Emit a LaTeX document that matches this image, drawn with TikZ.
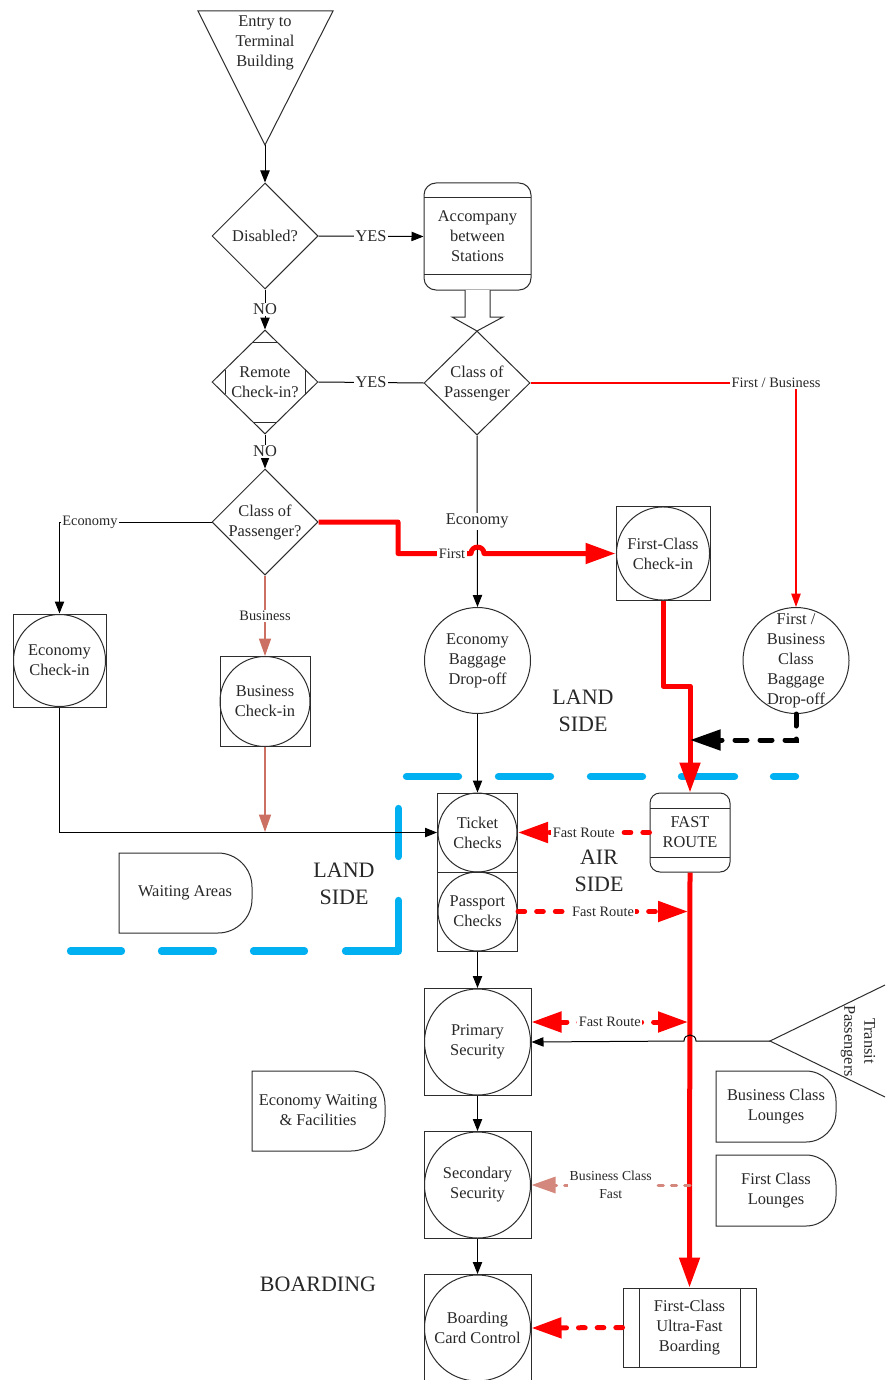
\documentclass[tikz,border=0pt]{standalone}
\usepackage{fontspec}
\setmainfont{Liberation Serif}
\usetikzlibrary{arrows.meta,shapes.geometric}

\definecolor{ink}{RGB}{40,40,40}
\definecolor{lineg}{RGB}{45,45,45}
\definecolor{fastred}{RGB}{255,0,0}
\definecolor{bizpink}{RGB}{205,112,100}
\definecolor{bizfast}{RGB}{212,135,125}
\definecolor{zoneblue}{RGB}{0,176,240}

% rectangle whose right side is a rounded tab: left, top, right, bottom, radius
\newcommand{\tabshape}[5]{%
  \draw[shape line] (#1,#2) -- ({#3-#5},#2)
    .. controls ({#3-0.45*#5},#2) and (#3,{#2+0.45*#5}) .. (#3,{#2+#5})
    -- (#3,{#4-#5})
    .. controls (#3,{#4-0.45*#5}) and ({#3-0.45*#5},#4) .. ({#3-#5},#4)
    -- (#1,#4) -- cycle;}

\begin{document}
\begin{tikzpicture}[x=0.75pt,y=-0.75pt,
  every node/.style={font=\fontsize{12.3}{15}\selectfont, text=ink, align=center},
  shape line/.style={draw=lineg, line width=0.75pt},
  decision/.style={shape line, diamond, minimum width=79.5pt, minimum height=79.5pt, inner sep=-8pt},
  station/.style={shape line, rectangle, inner sep=0pt},
  tag/.style={font=\fontsize{10.8}{13.5}\selectfont, fill=white, inner sep=1pt},
  tagm/.style={fill=white, inner sep=1pt},
  big/.style={font=\fontsize{16.5}{20}\selectfont},
  flow/.style={draw=black, line width=0.75pt, -{Triangle[length=9pt,width=7pt]}},
  plain/.style={draw=black, line width=0.75pt},
  bizflow/.style={draw=bizpink, line width=0.9pt, -{Triangle[length=13pt,width=9pt]}},
  redthin/.style={draw=fastred, line width=1pt, -{Triangle[length=10pt,width=7pt]}},
  fastlane/.style={draw=fastred, line width=3.75pt, line join=round, -{Triangle[length=22.5pt,width=15pt]}},
  fastdot/.style={draw=fastred, line width=3.75pt, line cap=round, dash pattern=on 5pt off 9pt, -{Triangle[length=22.5pt,width=15pt]}},
  bagdash/.style={draw=black, line width=3.75pt, line cap=round, dash pattern=on 9pt off 9.75pt, -{Triangle[length=23pt,width=15pt]}},
  bizdot/.style={draw=bizfast, line width=2.25pt, line cap=round, dash pattern=on 4pt off 6pt, -{Triangle[length=18pt,width=12pt]}},
  zone/.style={draw=zoneblue, line width=5.5pt, line cap=round, line join=round}
]
\useasboundingbox (0,0) rectangle (885,1380);
\fill[white] (0,0) rectangle (885,1380);

% ---- land side / air side boundary
\foreach \a/\b in {406.5/458.5, 498.5/550.5, 590.5/642.5, 681.5/734.5, 773.5/795.5}
  \draw[zone] (\a,776.5) -- (\b,776.5);
\draw[zone] (398.5,808.5) -- (398.5,856.5);
\draw[zone] (398.5,900.5) -- (398.5,951) -- (345.5,951);
\foreach \a/\b in {70.5/121.5, 161.5/213.5, 253.5/304.5}
  \draw[zone] (\a,951) -- (\b,951);

% ---- entry
\draw[shape line] (198,11) -- (333,11) -- (265,145) -- cycle;
\node (entry) at (265,43) {Entry to\\Terminal\\Building};
\coordinate (entrytip) at (265,145);

% ---- decisions
\node[decision] (dis) at (265,236) {Disabled?};
\node[decision, minimum height=78pt] (rem) at (265,382) {Remote\\Check-in?};
\draw[shape line] (253,342) -- (277,342);
\draw[shape line] (253,422) -- (277,422);
\draw[shape line] (225,370) -- (225,394);
\draw[shape line] (305,370) -- (305,394);
\node[decision] (cpa) at (265,522) {Class of\\Passenger?};
\node[decision, minimum height=78pt] (cpb) at (477,383) {Class of\\Passenger};

% ---- accompany
\node[station, rounded corners=9pt, minimum width=80.25pt, minimum height=80.25pt] (acc) at (477.5,236.5) {Accompany\\between\\Stations};
\draw[shape line] (424,198) -- (531,198);
\draw[shape line] (424,274) -- (531,274);

% ---- check-in and baggage
\node[station, minimum size=69.75pt] (eci) at (59.5,660.5) {Economy\\Check-in};
\draw[shape line] (eci.center) circle (34.5pt);
\node[station, minimum size=67.5pt] (bci) at (265,701.5) {Business\\Check-in};
\draw[shape line] (bci.center) circle (33.75pt);
\node[station, minimum size=70.5pt] (fci) at (663,553.5) {First-Class\\Check-in};
\draw[shape line] (fci.center) circle (34.9pt);
\node[shape line, circle, minimum size=79.5pt, inner sep=0pt] (ebd) at (477.5,660.5) {Economy\\Baggage\\Drop-off};
\node[shape line, circle, minimum size=79.5pt, inner sep=-14pt] (fbd) at (796,660.5) {First /\\Business\\Class\\Baggage\\Drop-off};

% ---- checks
\node[station, minimum width=60pt, minimum height=59.25pt] (tkt) at (477.5,832.5) {Ticket\\Checks};
\draw[shape line] (tkt.center) circle (29.6pt);
\node[station, minimum width=60pt, minimum height=59.25pt] (psp) at (477.5,911.5) {Passport\\Checks};
\draw[shape line] (psp.center) circle (29.6pt);
\node[station, rounded corners=7.5pt, minimum width=60pt, minimum height=59.25pt] (fast) at (690,832.5) {FAST\\ROUTE};
\draw[shape line] (650,808) -- (730,808);
\draw[shape line] (650,857) -- (730,857);

% ---- security and boarding
\node[station, minimum size=80.25pt] (pri) at (477.5,1042) {Primary\\Security};
\draw[shape line] (pri.center) circle (39.75pt);
\node[station, minimum size=80.25pt] (sec) at (477.5,1185) {Secondary\\Security};
\draw[shape line] (sec.center) circle (39.75pt);
\node[station, minimum size=80.25pt] (brd) at (477.5,1328) {Boarding\\Card Control};
\draw[shape line] (brd.center) circle (39.75pt);
\node[station, minimum width=99.75pt, minimum height=59.25pt] (ufb) at (689.5,1327.5) {First-Class\\Ultra-Fast\\Boarding};
\draw[shape line] (639,1288) -- (639,1367);
\draw[shape line] (740,1288) -- (740,1367);

% ---- waiting areas and lounges
\tabshape{119}{853}{252}{933}{34}
\node (wait) at (185,893) {Waiting Areas};
\tabshape{252}{1071}{385}{1151}{34}
\node (ecowait) at (318,1110) {Economy Waiting\\\& Facilities};
\tabshape{716}{1071}{836}{1142}{30}
\node (bizlounge) at (776,1106.5) {Business Class\\Lounges};
\tabshape{716}{1155}{836}{1226}{30}
\node (firstlounge) at (776,1190.5) {First Class\\Lounges};

% ---- transit
\draw[shape line] (885,985) -- (770,1041) -- (885,1097);
\coordinate (transit) at (770,1041);
\node[rotate=-90] (trn) at (858,1041) {Transit\\Passengers};

% ---- zone labels
\node[big] (land1) at (583,711) {LAND\\SIDE};
\node[big] (land2) at (344,884) {LAND\\SIDE};
\node[big] (air) at (599,871) {AIR\\SIDE};
\node[big] (boarding) at (318,1284) {BOARDING};

% ---- connectors
\draw[flow] (entrytip) -- (dis.north);
\draw[flow] (dis.east) -- node[tagm]{YES} (acc.west);
\draw[flow] (dis.south) -- node[tagm]{NO} (rem.north);
\draw[flow] (rem.south) -- node[tagm]{NO} (cpa.north);
\draw[plain] (rem.east) -- node[tagm]{YES} (cpb.west);
\draw[shape line, fill=white] (465,290) -- (465,317) -- (452,317) -- (477,331) -- (503,317) -- (490,317) -- (490,290);
\draw[redthin] (cpb.east) -| node[tag, pos=0.4624]{First / Business} (fbd.north);
\draw[flow] (cpb.south) -- node[tagm]{Economy} (ebd.north);
\draw[flow] (cpa.west) -| node[tag, pos=0.4]{Economy} (eci.north);
\draw[bizflow] (cpa.south) -- node[tag]{Business} (bci.north);
\draw[fastlane] (cpa.east) -- (398,522) -- (398,553.5) -- node[tag, pos=0.74]{First} (471,553.5)
  .. controls (471,545) and (484,545) .. (484,553.5) -- (fci.west);
\draw[fastlane] (fci.south) -- (663,686) -- (690,686) -- (fast.north);
\coordinate (merge) at (690,740);
\draw[bagdash] (fbd.south) |- (merge);
\draw[flow] (ebd.south) -- (tkt.north);
\draw[flow] (eci.south) |- (tkt.west);
\coordinate (bizjoin) at (265,832);
\draw[bizflow] (bci.south) -- (bizjoin);
\draw[fastlane] (fast.south) -- (ufb.north);
\draw[fastdot] (fast.west) -- node[tag]{Fast Route} (tkt.east);
\coordinate (pspfast) at (688,911.5);
\draw[fastdot] (psp.east) -- node[tag]{Fast Route} (pspfast);
\draw[flow] (psp.south) -- (pri.north);
\coordinate (prifast) at (688,1022);
\draw[fastdot, {Triangle[length=22.5pt,width=15pt]}-{Triangle[length=22.5pt,width=15pt]}] ([yshift=15pt]pri.east) -- node[tag]{Fast Route} (prifast);
\draw[flow] (transit) -- (696,1041) .. controls (696,1033) and (684,1033) .. (684,1041) -- (pri.east);
\draw[flow] (pri.south) -- (sec.north);
\coordinate (bizfastsrc) at (690,1185);
\draw[bizdot] (bizfastsrc) -- node[tag, font=\fontsize{10.3}{13.5}\selectfont]{Business Class\\Fast} (sec.east);
\draw[flow] (sec.south) -- (brd.north);
\draw[fastdot] (ufb.west) -- (brd.east);
\end{tikzpicture}
\end{document}
